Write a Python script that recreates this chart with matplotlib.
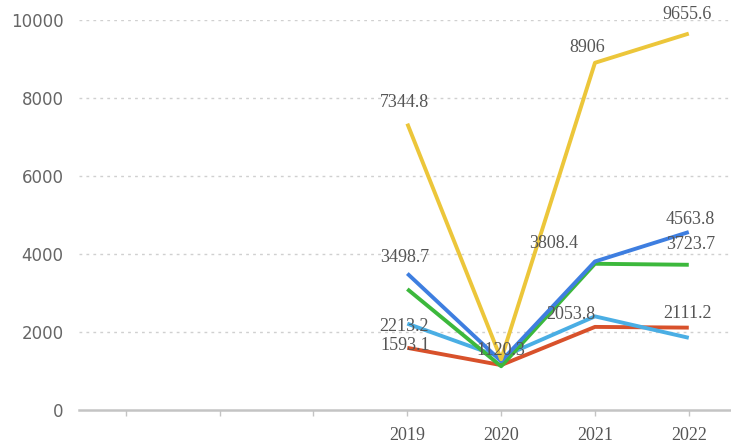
import matplotlib.pyplot as plt
import numpy as np

# ---------- data ----------
categories = ["", "", "", "2019", "2020", "2021", "2022"]
years_idx = [3, 4, 5, 6]
yellow = [7344.8, 1300, 8906, 9655.6]
blue = [3498.7, 1250, 3808.4, 4563.8]
green = [3100, 1120.3, 3750, 3723.7]
lightblue = [2213.2, 1350, 2400, 1850]
red = [1593.1, 1150, 2130, 2111.2]
y_ticks = [0, 2000, 4000, 6000, 8000, 10000]

# (series, point index, text, dx, dy in pixels)
labels = [
    ("yellow", 0, "7344.8", -3, 21), ("yellow", 2, "8906", -8, 15), ("yellow", 3, "9655.6", -2, 19),
    ("blue", 0, "3498.7", -3, 16), ("blue", 2, "3808.4", -41, 18), ("blue", 3, "4563.8", 1, 13),
    ("green", 1, "1120.3", 0, 16), ("green", 3, "3723.7", 2, 20),
    ("lightblue", 0, "2213.2", -3, -3), ("red", 0, "1593.1", -2, 2), ("red", 2, "2053.8", -24, 12),
    ("red", 3, "2111.2", -1, 14),
]

series = {
    "red": (red, "#D8512B"),
    "lightblue": (lightblue, "#4AAEE4"),
    "green": (green, "#3CB83C"),
    "blue": (blue, "#3E7EE0"),
    "yellow": (yellow, "#ECC63A"),
}

fig = plt.figure(figsize=(7.31, 4.48), dpi=100)
ax = fig.add_axes([0.108, 0.085, 0.892, 0.870])

for name, (vals, col) in series.items():
    ax.plot(years_idx, vals, color=col, lw=2.8, solid_capstyle="butt", zorder=3)

for name, i, txt, dx, dy in labels:
    vals = series[name][0]
    ax.annotate(txt, (years_idx[i], vals[i]), xytext=(dx, dy), textcoords="offset pixels",
                ha="center", va="center", fontsize=13, color="#555555",
                family="Liberation Serif", annotation_clip=False, zorder=4)

ax.set_xlim(-0.5, 6.45)
ax.set_ylim(0, 10000)
ax.set_xticks(range(len(categories)))
ax.set_xticklabels(categories, family="Liberation Serif", fontsize=13, color="#555555")
ax.set_yticks(y_ticks)
ax.set_yticklabels([str(v) for v in y_ticks], fontsize=12, color="#666666")

for v in y_ticks[1:]:
    ax.axhline(v, color="#d0d0d0", lw=1, ls=(0, (2, 3)), zorder=1)

for s in ["top", "right", "left"]:
    ax.spines[s].set_visible(False)
ax.spines["bottom"].set_color("#c4c4c4")
ax.spines["bottom"].set_linewidth(1.8)
ax.tick_params(axis="x", length=4, width=1, color="#c4c4c4", pad=8)
ax.tick_params(axis="y", length=0, pad=11)

fig.savefig("out.png", dpi=100)
